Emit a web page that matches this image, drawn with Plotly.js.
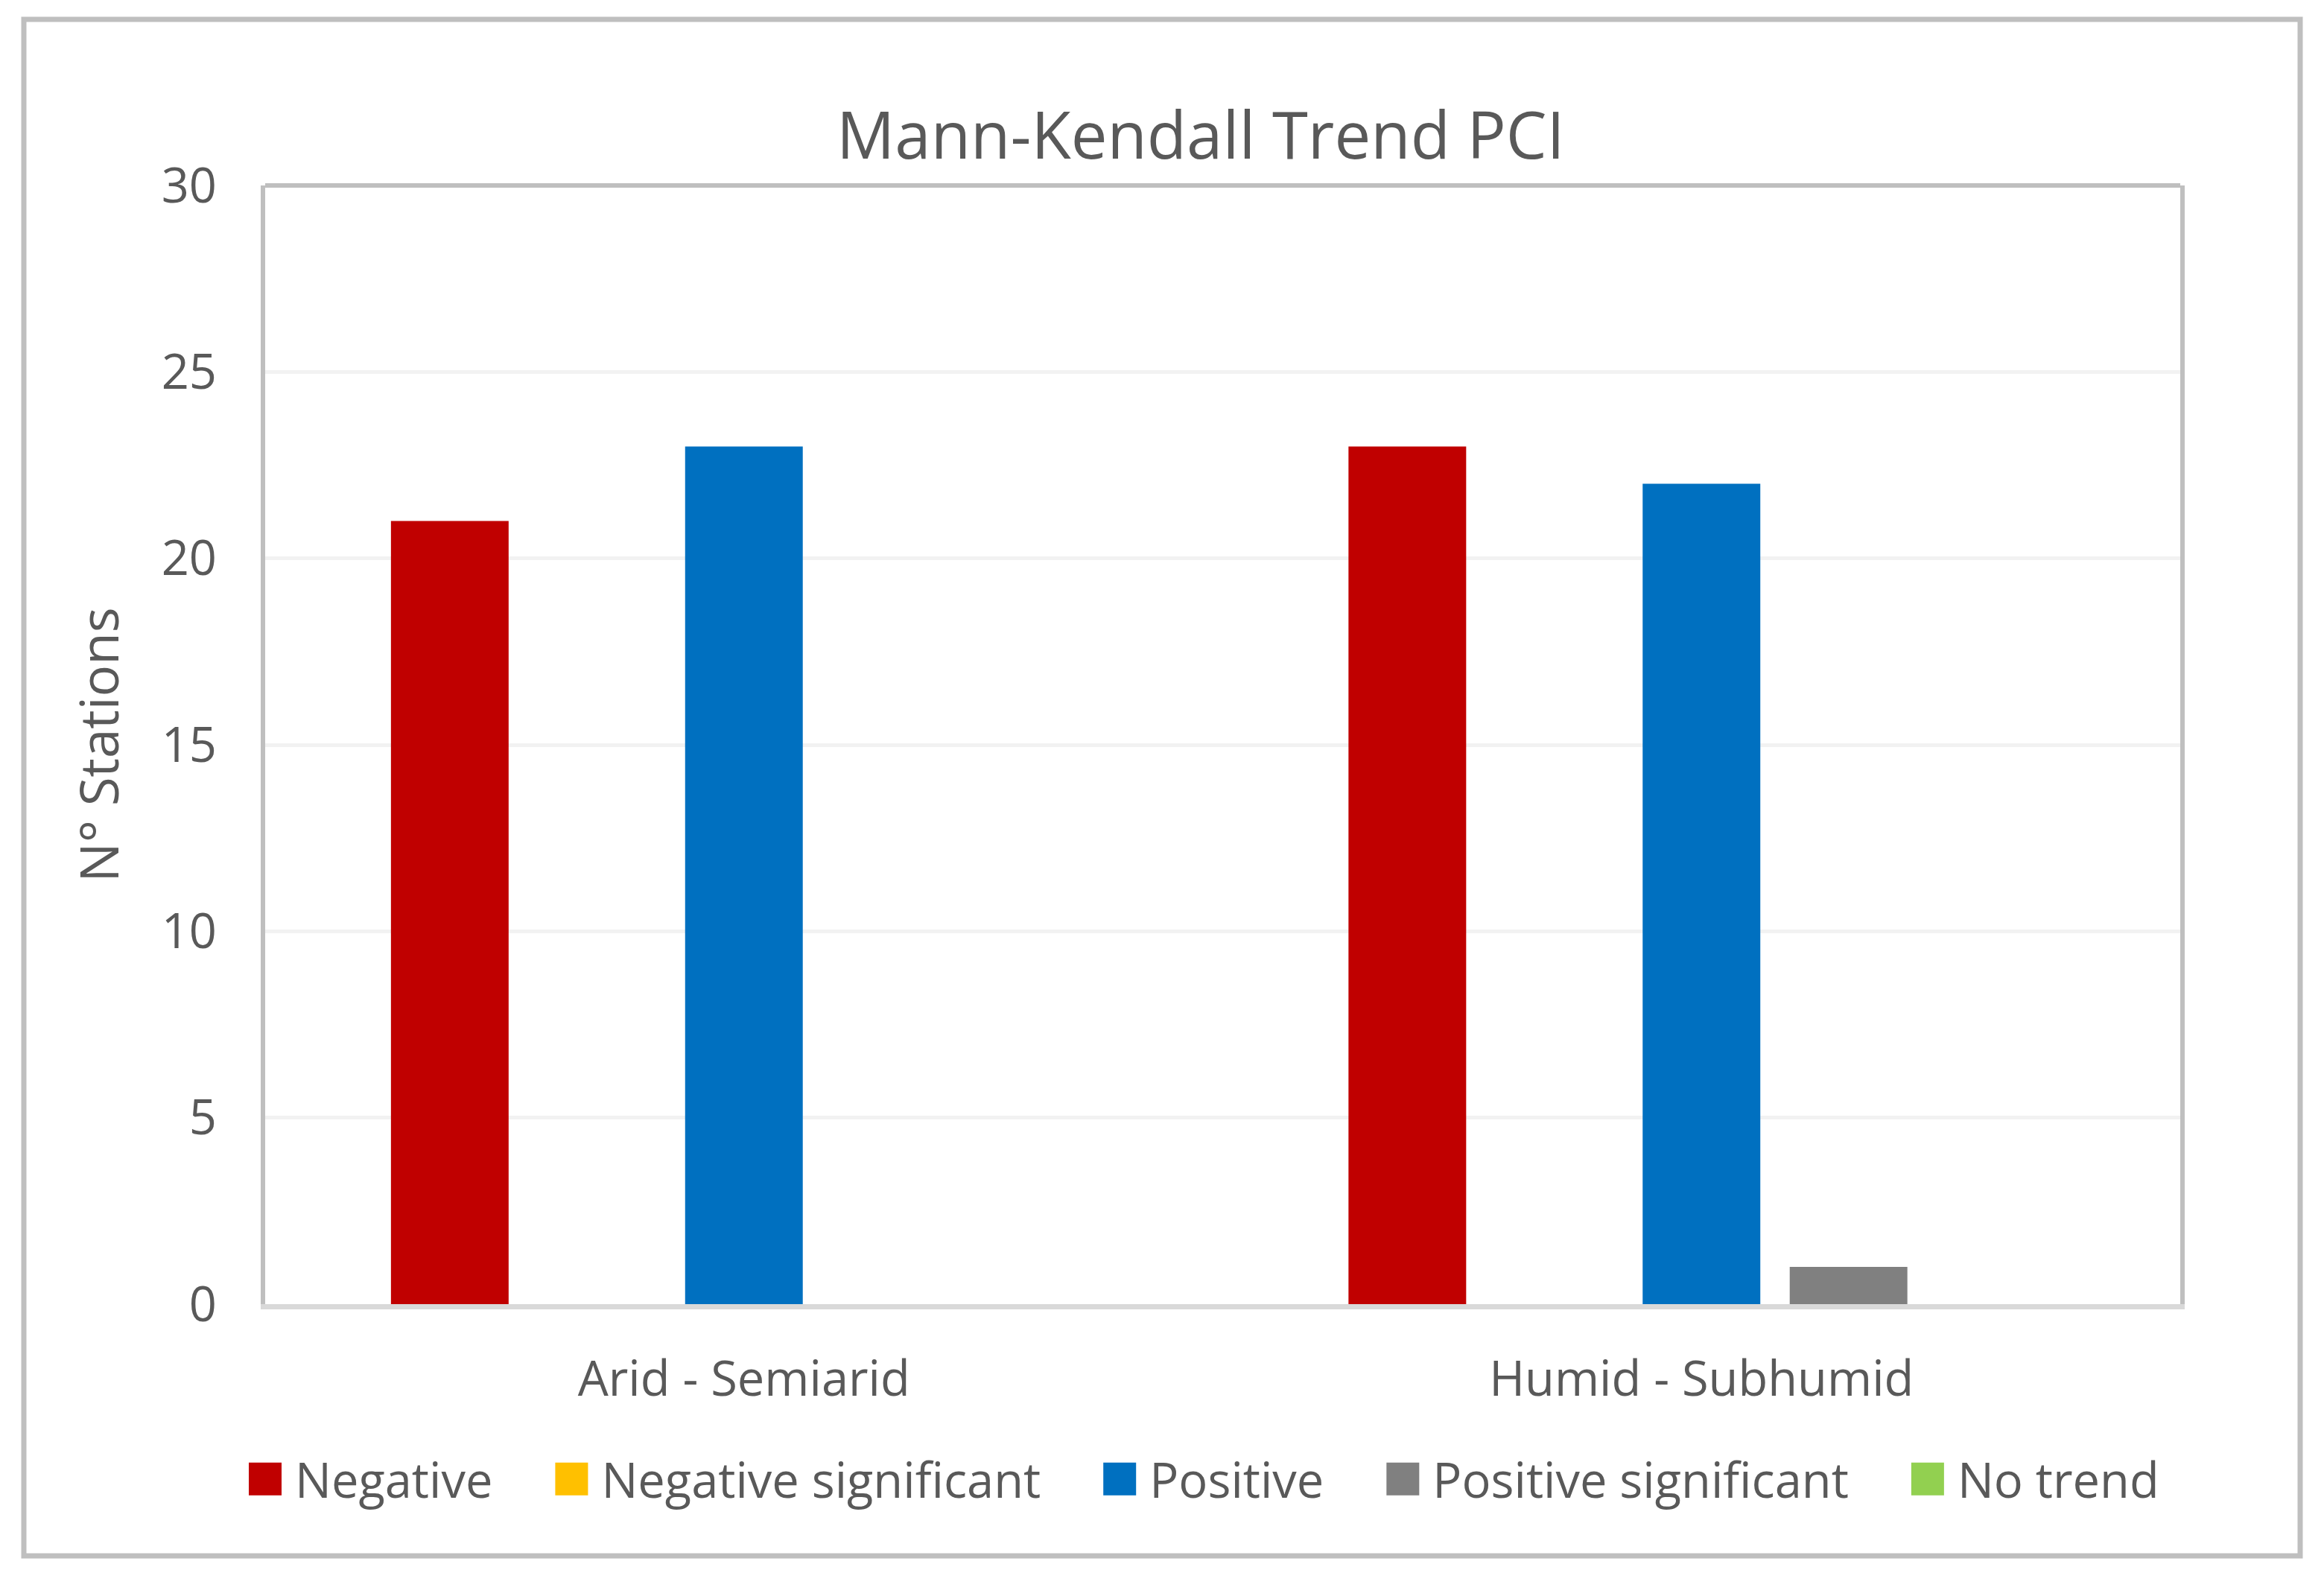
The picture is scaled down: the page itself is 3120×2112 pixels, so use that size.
<!DOCTYPE html>
<html>
<head>
<meta charset="utf-8">
<script src="https://cdn.plot.ly/plotly-3.0.1.min.js"></script>
<style>
  html, body { margin: 0; padding: 0; background: #ffffff; }
  #chart { width: 3120px; height: 2112px; }
</style>
</head>
<body>
<div id="chart"></div>
<script>
// ---- data ----
const categories = ['Arid - Semiarid', 'Humid - Subhumid'];
const seriesNames = ['Negative', 'Negative significant', 'Positive', 'Positive significant', 'No trend'];
const negative = [21, 23];
const negativeSignificant = [0, 0];
const positive = [23, 22];
const positiveSignificant = [0, 1];
const noTrend = [0, 0];
const seriesColors = ['#C00000', '#FFC000', '#0070C0', '#808080', '#92D050'];
const yTickValues = [0, 5, 10, 15, 20, 25, 30];
const chartTitle = 'Mann-Kendall Trend PCI';
const yTitle = 'N° Stations';

// ---- layout geometry (pixels) ----
const W = 3120, H = 2112;
const plotL = 356, plotR = 2927, plotT = 249, plotB = 1751;
const pw = plotR - plotL, ph = plotB - plotT;
const px2x = p => (p - plotL) / pw;
const px2y = p => (plotB - p) / ph;

const seriesValues = [negative, negativeSignificant, positive, positiveSignificant, noTrend];
const textColor = '#595959';
const fontFamily = '"Open Sans", "Noto Sans", sans-serif';
const legendExtraGap = 61;   // extra spacing between legend entries (px)
const legendSymbolHalf = 22; // half size of legend squares (px)

const traces = seriesNames.map((name, i) => ({
  type: 'bar',
  name: name,
  x: categories,
  y: seriesValues[i],
  marker: { color: seriesColors[i], line: { width: 0 } },
  hoverinfo: 'x+y+name'
}));

const layout = {
  width: W,
  height: H,
  margin: { l: plotL, r: W - plotR, t: plotT, b: H - plotB, pad: 0 },
  paper_bgcolor: '#ffffff',
  plot_bgcolor: '#ffffff',
  font: { family: fontFamily, color: textColor, size: 65 },
  barmode: 'group',
  bargap: 0.232,
  bargroupgap: 0.2,
  title: {
    text: chartTitle,
    font: { size: 87, color: textColor, family: fontFamily },
    xref: 'container', x: 1612 / W, xanchor: 'center',
    yref: 'container', y: 1 - 183 / H, yanchor: 'middle'
  },
  xaxis: {
    type: 'category',
    showgrid: false,
    zeroline: false,
    showline: true,
    linecolor: '#d9d9d9',
    linewidth: 7,
    ticks: '',
    tickfont: { size: 65, color: textColor },
    ticklabelstandoff: 38,
    fixedrange: true
  },
  yaxis: {
    range: [0, 30],
    tickvals: yTickValues,
    ticktext: yTickValues.map(String),
    showgrid: true,
    gridcolor: '#f2f2f2',
    gridwidth: 5,
    zeroline: false,
    showline: true,
    mirror: true,
    linecolor: '#bfbfbf',
    linewidth: 6,
    ticks: '',
    tickfont: { size: 65, color: textColor },
    ticklabelstandoff: 46,
    title: {
      text: yTitle,
      font: { size: 71, color: textColor, family: fontFamily },
      standoff: 36
    },
    fixedrange: true
  },
  legend: {
    orientation: 'h',
    x: px2x(1610), xanchor: 'center',
    y: px2y(1986), yanchor: 'middle',
    font: { size: 65, color: textColor },
    itemwidth: 70,
    bgcolor: 'rgba(0,0,0,0)',
    traceorder: 'normal'
  },
  shapes: [
    // top border of plot area
    { type: 'line', xref: 'paper', yref: 'paper', x0: 0, x1: 1, y0: 1, y1: 1,
      line: { color: '#bfbfbf', width: 6 } },
    // outer chart border
    { type: 'rect', xref: 'paper', yref: 'paper',
      x0: px2x(32), x1: px2x(3088), y0: px2y(2089), y1: px2y(26),
      line: { color: '#bfbfbf', width: 7 }, fillcolor: 'rgba(0,0,0,0)' }
  ],
  showlegend: true
};

function parseTranslate(t) {
  const m = /translate\(\s*([-\d.e]+)[ ,]+([-\d.e]+)\s*\)/.exec(t || '');
  return m ? [parseFloat(m[1]), parseFloat(m[2])] : [0, 0];
}

function restyleLegend() {
  const gd = document.getElementById('chart');
  const s = legendSymbolHalf;
  gd.querySelectorAll('.legend .legendpoints path').forEach(p => {
    p.setAttribute('d', `M${s},${s}H-${s}V-${s}H${s}Z`);
  });
  // let the wider legend show fully
  gd.querySelectorAll('.legend .scrollbox, .legend').forEach(el => {
    el.removeAttribute('clip-path');
    el.style.clipPath = 'none';
  });
  const items = gd.querySelectorAll('.legend g.traces');
  const n = items.length;
  items.forEach((g, i) => {
    if (g.dataset.shifted) return;
    const [x, y] = parseTranslate(g.getAttribute('transform'));
    const dx = legendExtraGap * (i - (n - 1) / 2);
    g.setAttribute('transform', `translate(${x + dx},${y})`);
    g.dataset.shifted = '1';
  });
}

Plotly.newPlot('chart', traces, layout, { staticPlot: true, displayModeBar: false }).then(gd => {
  restyleLegend();
  gd.on && gd.on('plotly_afterplot', restyleLegend);
  setTimeout(restyleLegend, 300);
  setTimeout(restyleLegend, 1000);
});
</script>
</body>
</html>
